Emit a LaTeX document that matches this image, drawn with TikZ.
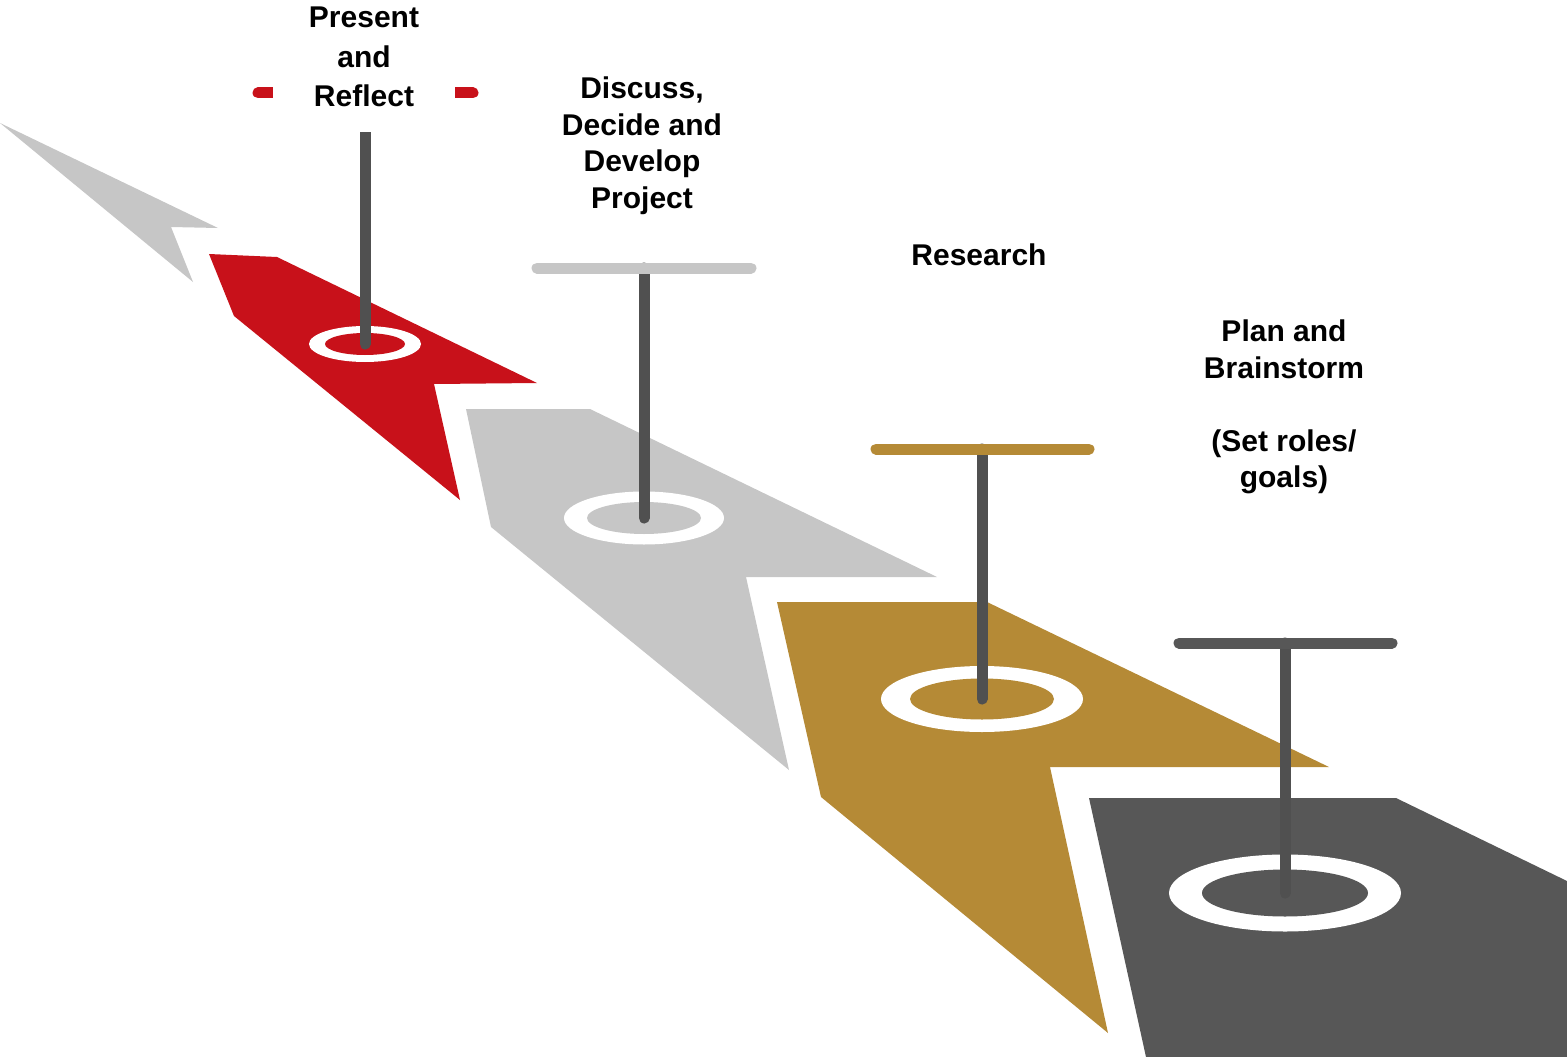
\documentclass[tikz,border=0pt]{standalone}
\usepackage{fontspec}
\setmainfont{Liberation Sans}
\definecolor{cred}{HTML}{C8111A}
\definecolor{cgray}{HTML}{C6C6C6}
\definecolor{cgold}{HTML}{B58A36}
\definecolor{cdark}{HTML}{575757}
\definecolor{cstem}{HTML}{505050}
\tikzset{
  stemline/.style={draw=cstem, line width=11pt, line cap=round},
  barline/.style={line width=11pt, line cap=round},
  steplabel/.style={anchor=north, inner sep=0pt, align=center, text=black,
    font=\bfseries\fontsize{30}{36.5}\selectfont},
}
\begin{document}
\begin{tikzpicture}[x=1pt,y=-1pt]
\useasboundingbox (0,0) rectangle (1567,1057);
% step shapes
\fill[cgray] (0,123) -- (218,228) -- (171,227) -- (193,282) -- cycle;
\fill[cred] (209,254) -- (277,257) -- (537,383) -- (434,384) -- (460,500) -- (234,316) -- cycle;
\fill[cgray] (466,409) -- (590,409) -- (937,577) -- (746,577) -- (789,770) -- (491,527) -- cycle;
\fill[cgold] (777,602) -- (987,602) -- (1329,767) -- (1050,767) -- (1108,1033) -- (821,797) -- cycle;
\fill[cdark] (1089,798) -- (1396,798) -- (1567,881) -- (1567,1057) -- (1146,1057) -- cycle;
% rings
\coordinate (hub1) at (365,344);
\coordinate (hub2) at (644,518);
\coordinate (hub3) at (982,699);
\coordinate (hub4) at (1285,893);
\fill[white] (hub1) ellipse [x radius=56pt, y radius=18pt];
\fill[cred]  (hub1) ellipse [x radius=40pt, y radius=11pt];
\fill[white] (hub2) ellipse [x radius=80pt, y radius=26.5pt];
\fill[cgray] (hub2) ellipse [x radius=57pt, y radius=16pt];
\fill[white] (hub3) ellipse [x radius=101pt, y radius=33pt];
\fill[cgold] (hub3) ellipse [x radius=72pt, y radius=20.5pt];
\fill[white] (hub4) ellipse [x radius=116pt, y radius=38.5pt];
\fill[cdark] (hub4) ellipse [x radius=83pt, y radius=23.5pt];
% posts
\coordinate (top1) at (365,93);
\coordinate (top2) at (644,268);
\coordinate (top3) at (982,449);
\coordinate (top4) at (1285,643);
\coordinate (l1) at (258,93);  \coordinate (r1) at (473,93);
\coordinate (l2) at (537,268); \coordinate (r2) at (751,268);
\coordinate (l3) at (876,449); \coordinate (r3) at (1089,449);
\coordinate (l4) at (1179,643); \coordinate (r4) at (1392,643);
\draw[stemline] (top1) -- (hub1);
\draw[stemline] (top2) -- (hub2);
\draw[stemline] (top3) -- (hub3);
\draw[stemline] (top4) -- (hub4);
\draw[barline, draw=cred] (l1) -- (r1);
\draw[barline, draw=cgray] (l2) -- (r2);
\draw[barline, draw=cgold] (l3) -- (r3);
\draw[barline, draw=cdark] (l4) -- (r4);
% labels
\fill[white] (273,0) rectangle (455,132);
\node[steplabel, font=\bfseries\fontsize{30}{39.5}\selectfont] (t1) at (364,7) {Present\\and\\Reflect};
\node[steplabel] (t2) at (642,77) {Discuss,\\Decide and\\Develop\\Project};
\node[steplabel] (t3) at (979,244) {Research};
\node[steplabel] (t4) at (1284,320) {Plan and\\Brainstorm\\[36.5pt](Set roles/\\goals)};
\end{tikzpicture}
\end{document}
